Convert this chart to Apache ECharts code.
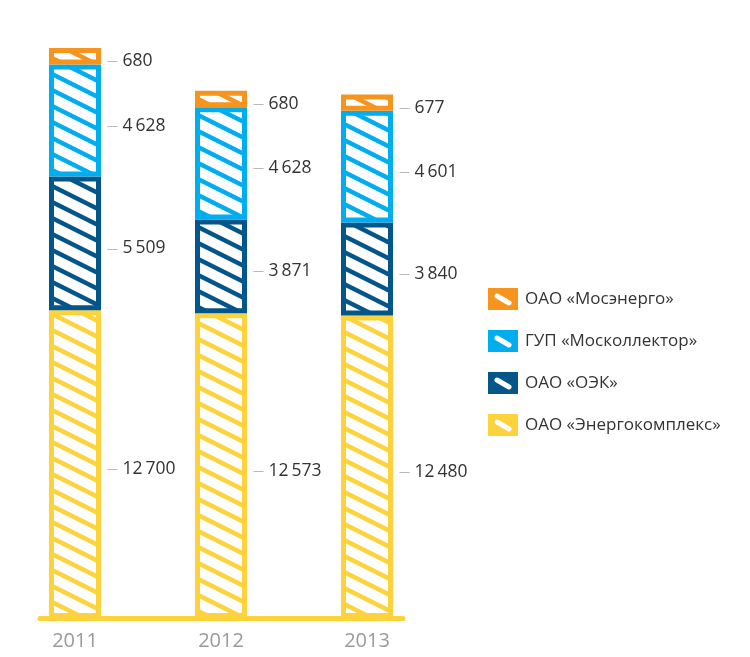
<!DOCTYPE html>
<html><head><meta charset="utf-8">
<script src="https://cdn.jsdelivr.net/npm/echarts@6/dist/echarts.min.js"></script>
<style>html,body{margin:0;padding:0;background:#fff}#c{width:750px;height:657px}</style>
</head><body><div id="c"></div>
<script>
const years = ['2011', '2012', '2013'];
const seriesNames = ['ОАО «Энергокомплекс»', 'ОАО «ОЭК»', 'ГУП «Москоллектор»', 'ОАО «Мосэнерго»'];
const energokompleks = [12700, 12573, 12480];
const oek = [5509, 3871, 3840];
const moskollektor = [4628, 4628, 4601];
const mosenergo = [680, 680, 677];
const colors = ['#fdd23a', '#03568a', '#00aeef', '#f7941d'];
const allValues = [energokompleks, oek, moskollektor, mosenergo];

function hatch(col) {
  const c = document.createElement('canvas');
  c.width = 32; c.height = 16;
  const g = c.getContext('2d');
  g.fillStyle = '#fff'; g.fillRect(0, 0, 32, 16);
  g.strokeStyle = col; g.lineWidth = 4.5;
  for (const c0 of [-16, 0, 16]) {
    g.beginPath(); g.moveTo(-8, c0 - 4); g.lineTo(40, c0 + 20); g.stroke();
  }
  return c;
}
function legendIcon(col) {
  const c = document.createElement('canvas');
  c.width = 30; c.height = 22;
  const g = c.getContext('2d');
  g.fillStyle = col; g.fillRect(0, 0, 30, 22);
  g.strokeStyle = '#fff'; g.lineWidth = 5; g.lineCap = 'round';
  g.beginPath(); g.moveTo(9, 8); g.lineTo(21, 15); g.stroke();
  return c;
}
function fmt(v) { return String(v).replace(/\B(?=(\d{3})+(?!\d))/g, '\u2009'); }

const chart = echarts.init(document.getElementById('c'), null, {renderer: 'canvas'});
const series = allValues.map((vals, i) => ({
  name: seriesNames[i],
  type: 'bar',
  stack: 'total',
  xAxisIndex: 0, yAxisIndex: 0,
  barWidth: 52,
  data: vals,
  itemStyle: {
    color: {image: hatch(colors[i]), repeat: 'repeat'},
    borderColor: colors[i],
    borderWidth: 5
  },
  label: {
    show: true,
    position: 'right',
    distance: 6,
    offset: [0, 5],
    color: '#333',
    fontSize: 17.5,
    fontFamily: 'Open Sans',
    formatter: p => '{d|—} ' + fmt(p.value),
    rich: {d: {color: '#aaa', fontSize: 11, fontFamily: 'Open Sans'}}
  }
}));

chart.setOption({
  animation: false,
  backgroundColor: '#fff',
  grid: [
    {left: 2, width: 438, top: 12, bottom: 39},
    {left: 40, width: 363, top: 12, bottom: 39}
  ],
  xAxis: [
    {type: 'category', gridIndex: 0, data: years,
     axisLine: {show: false}, axisTick: {show: false},
     axisLabel: {color: '#9a9a9a', fontSize: 20, fontFamily: 'Open Sans', margin: 13}},
    {type: 'category', gridIndex: 1, data: [''],
     axisLine: {show: true, lineStyle: {color: '#fdd23a', width: 5}},
     axisTick: {show: false}, axisLabel: {show: false}}
  ],
  yAxis: [
    {type: 'value', gridIndex: 0, min: 0, max: 25000, show: false},
    {type: 'value', gridIndex: 1, min: 0, max: 25000, show: false}
  ],
  legend: {
    orient: 'vertical',
    left: 483, top: 283,
    itemWidth: 30, itemHeight: 22, itemGap: 20,
    textStyle: {color: '#333', fontSize: 17, fontFamily: 'Open Sans', padding: [0, 0, 0, 2]},
    data: [3, 2, 1, 0].map(i => ({
      name: seriesNames[i],
      icon: 'rect',
      itemStyle: {color: {image: legendIcon(colors[i]), repeat: 'no-repeat'}, borderWidth: 0}
    }))
  },
  series: series
});
</script>
</body></html>
